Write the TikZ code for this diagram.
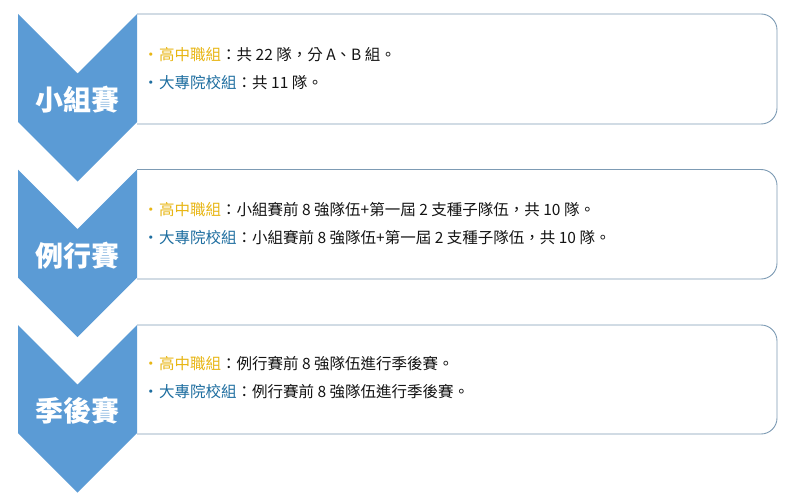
\documentclass[tikz,border=0pt]{standalone}
\usepackage{fontspec}
\setmainfont{Noto Sans CJK TC}
\usepackage{tikz}
\usetikzlibrary{positioning}
\usepackage{xcolor}
\definecolor{lgblue}{RGB}{91,155,213}
\definecolor{lgframe}{RGB}{125,155,180}
\definecolor{lggold}{RGB}{232,182,20}
\definecolor{lgteal}{RGB}{30,110,160}
\definecolor{lgtext}{RGB}{20,20,20}
\tikzstyle{chevron} = [fill=lgblue, draw=none]
\tikzstyle{infobox} = [draw=lgframe, fill=white, line width=0.9pt, rounded corners=16]
\tikzstyle{stagelabel} = [font=\fontsize{28}{32}\selectfont\bfseries, text=white, inner sep=0pt]
\tikzstyle{itemline} = [anchor=west, font=\fontsize{15.5}{18}\selectfont, text=lgtext, inner sep=0pt]
\newcommand{\hsitem}[1]{\textcolor{lggold}{•}\hspace{0.5pt}\textcolor{lggold}{高中職組}：#1}
\newcommand{\uvitem}[1]{\textcolor{lgteal}{•}\hspace{0.5pt}\textcolor{lgteal}{大專院校組}：#1}

\begin{document}
\begin{tikzpicture}[x=1pt,y=-1pt]
\useasboundingbox (0,0) rectangle (800,500);

% Stage 1: group round
\draw[infobox] (137,14) -- (777,14) -- (777,124) -- (137,124);
\fill[chevron] (18,14) -- (77.5,73.5) -- (137,14) -- (137,122) -- (77.5,181.5) -- (18,122) -- cycle;
\node[stagelabel] (group) at (77.5,100) {小組賽};
\node[itemline] (groupa) at (143,55) {\hsitem{共 22 隊，分 A、B 組。}};
\node[itemline] (groupb) at (143,83) {\uvitem{共 11 隊。}};

% Stage 2: regular season
\draw[infobox] (137,169.5) -- (777,169.5) -- (777,279) -- (137,279);
\fill[chevron] (18,169.5) -- (77.5,229) -- (137,169.5) -- (137,277.5) -- (77.5,337) -- (18,277.5) -- cycle;
\node[stagelabel] (regular) at (77.5,255.5) {例行賽};
\node[itemline] (regulara) at (143,210) {\hsitem{小組賽前 8 強隊伍+第一屆 2 支種子隊伍，共 10 隊。}};
\node[itemline] (regularb) at (143,238) {\uvitem{小組賽前 8 強隊伍+第一屆 2 支種子隊伍，共 10 隊。}};

% Stage 3: playoffs
\draw[infobox] (137,325) -- (777,325) -- (777,434) -- (137,434);
\fill[chevron] (18,325) -- (77.5,384.5) -- (137,325) -- (137,433) -- (77.5,492.5) -- (18,433) -- cycle;
\node[stagelabel] (playoff) at (77.5,411) {季後賽};
\node[itemline] (playoffa) at (143,364) {\hsitem{例行賽前 8 強隊伍進行季後賽。}};
\node[itemline] (playoffb) at (143,392) {\uvitem{例行賽前 8 強隊伍進行季後賽。}};
\end{tikzpicture}
\end{document}
